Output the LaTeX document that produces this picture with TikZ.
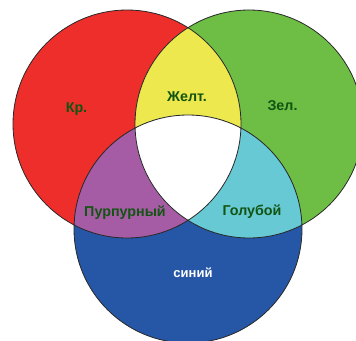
\documentclass[tikz,border=0pt]{standalone}
\usepackage{fontspec}
\setmainfont{Liberation Sans}
\usepackage{tikz}
\usetikzlibrary{positioning}
\definecolor{vnred}    {RGB}{238, 46, 42}
\definecolor{vngreen}  {RGB}{110,190, 69}
\definecolor{vnblue}   {RGB}{ 38, 87,166}
\definecolor{vnyellow} {RGB}{236,232, 77}
\definecolor{vnpurple} {RGB}{166, 92,164}
\definecolor{vncyan}   {RGB}{102,201,212}
\definecolor{vntext}   {RGB}{ 18, 84, 18}
\definecolor{vnedge}   {RGB}{ 40, 40, 40}
\tikzset{
	lbl/.style={font=\bfseries\fontsize{14.3}{16}\selectfont,text=vntext,inner sep=0pt,anchor=base},
	rim/.style={draw=vnedge,line width=0.8pt}
}

\begin{document}
\begin{tikzpicture}[x=1pt,y=-1pt]
	\useasboundingbox (0,0) rectangle (356,340);
	\clip (0,0) rectangle (356,340);
	\coordinate (cr) at (127,124);
	\coordinate (cg) at (249,124);
	\coordinate (cb) at (188,229);
	\fill[vnred]   (cr) circle (114pt);
	\fill[vngreen] (cg) circle (114pt);
	\fill[vnblue]  (cb) circle (114pt);
	% overlaps
	\begin{scope}
		\clip (cr) circle (114pt);
		\fill[vnyellow] (cg) circle (114pt);
		\fill[vnpurple] (cb) circle (114pt);
	\end{scope}
	\begin{scope}
		\clip (cg) circle (114pt);
		\fill[vncyan] (cb) circle (114pt);
		\clip (cb) circle (114pt);
		\fill[white] (cr) circle (114pt);
	\end{scope}
	\draw[rim] (cr) circle (114pt);
	\draw[rim] (cg) circle (114pt);
	\draw[rim] (cb) circle (114pt);
	% labels
	\node[lbl] (kr)  at (76.5,112) {Кр.};
	\node[lbl] (zhe) at (187,101) {Желт.};
	\node[lbl] (zel) at (282.5,110) {Зел.};
	\node[lbl] (pur) at (125,216) {Пурпурный};
	\node[lbl] (gol) at (252,215) {Голубой};
	\node[lbl,text=white,font=\bfseries\fontsize{13}{15}\selectfont] (sin) at (193,277) {синий};
\end{tikzpicture}
\end{document}
